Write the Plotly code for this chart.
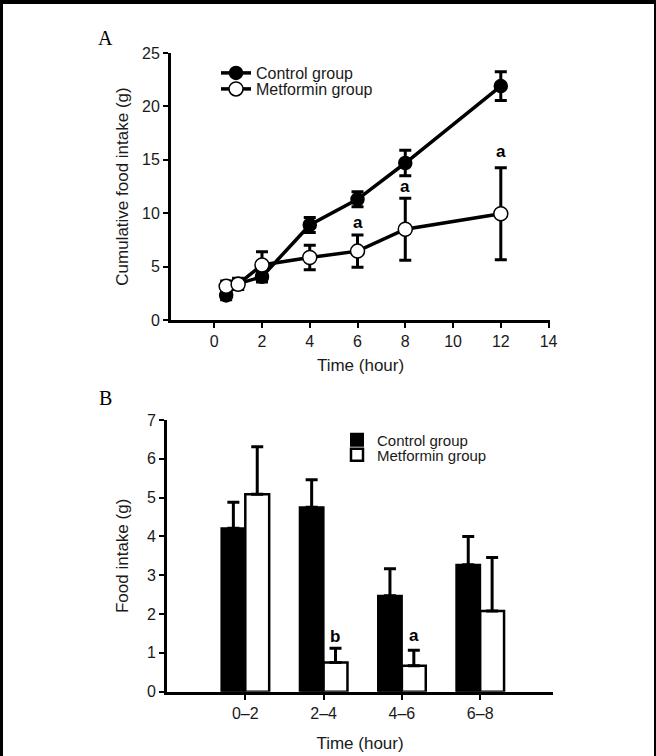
import plotly.graph_objects as go

# ---- Panel A data ----
time_h = [0.5, 1, 2, 4, 6, 8, 12]
control_cum = [2.3, 3.4, 4.05, 8.9, 11.3, 14.7, 21.9]
control_cum_err = [0.4, 0.5, 0.5, 0.7, 0.7, 1.2, 1.35]
metformin_cum = [3.15, 3.35, 5.15, 5.85, 6.45, 8.5, 9.95]
metformin_cum_err = [0.5, 0.5, 1.25, 1.15, 1.5, 2.9, 4.3]
sigA_x = [6, 8, 12]
sigA_y = [9.1, 12.5, 15.8]
sigA_text = ["a", "a", "a"]
xticksA = [0, 2, 4, 6, 8, 10, 12, 14]
yticksA = [0, 5, 10, 15, 20, 25]

# ---- Panel B data ----
periods = ["0\u20132", "2\u20134", "4\u20136", "6\u20138"]
period_idx = [0, 1, 2, 3]
control_int = [4.21, 4.75, 2.47, 3.27]
control_int_err = [0.67, 0.71, 0.70, 0.73]
metformin_int = [5.09, 0.75, 0.67, 2.08]
metformin_int_err = [1.22, 0.37, 0.40, 1.38]
sigB_x = [1.15, 2.15]
sigB_y = [1.42, 1.45]
sigB_text = ["b", "a"]
yticksB = [0, 1, 2, 3, 4, 5, 6, 7]

W, H = 656, 756
SANS = "Liberation Sans, Arial, sans-serif"
SERIF = "Liberation Serif, Times New Roman, serif"
TXT = "#1a1a1a"

fig = go.Figure()

fig.add_trace(go.Scatter(
    x=time_h, y=control_cum, mode="lines+markers", name="Control group",
    line=dict(color="black", width=3.5),
    marker=dict(symbol="circle", size=13, color="black", line=dict(color="black", width=1.5)),
    error_y=dict(type="data", array=control_cum_err, color="black", thickness=3, width=6),
    xaxis="x", yaxis="y", legend="legend",
))
fig.add_trace(go.Scatter(
    x=time_h, y=metformin_cum, mode="lines+markers", name="Metformin group",
    line=dict(color="black", width=3.5),
    marker=dict(symbol="circle", size=14, color="white", line=dict(color="black", width=1.5)),
    error_y=dict(type="data", array=metformin_cum_err, color="black", thickness=3, width=6),
    xaxis="x", yaxis="y", legend="legend2",
))

fig.add_trace(go.Bar(
    x=period_idx, y=control_int, name="Control group",
    marker=dict(color="black", line=dict(color="black", width=2)),
    error_y=dict(type="data", symmetric=False, array=control_int_err,
                 arrayminus=[0] * len(control_int), color="black", thickness=3, width=6),
    xaxis="x2", yaxis="y2", legend="legend3",
))
fig.add_trace(go.Bar(
    x=period_idx, y=metformin_int, name="Metformin group",
    marker=dict(color="white", line=dict(color="black", width=2.5)),
    error_y=dict(type="data", symmetric=False, array=metformin_int_err,
                 arrayminus=[0] * len(metformin_int), color="black", thickness=3, width=6),
    xaxis="x2", yaxis="y2", legend="legend4",
))

axis_common = dict(
    showline=True, linecolor="black", linewidth=3, showgrid=False, zeroline=False,
    ticks="outside", tickcolor="black", tickwidth=1.5, ticklen=5,
    tickfont=dict(family=SANS, size=16, color=TXT),
    automargin=False,
)
title_font = dict(family=SANS, size=17, color=TXT)
leg_common = dict(xanchor="left", yanchor="middle", bgcolor="rgba(0,0,0,0)",
                  font=dict(family=SANS, size=16, color=TXT), itemwidth=30, borderwidth=0)

fig.update_layout(
    width=W, height=H,
    margin=dict(l=0, r=0, t=0, b=0),
    paper_bgcolor="white", plot_bgcolor="white",
    barmode="group", bargap=0.39, bargroupgap=0,
    xaxis=dict(axis_common, domain=[171 / W, 550 / W], anchor="y",
               range=[-1.81, 14.06], tickvals=xticksA,
               title=dict(text="Time (hour)", font=title_font, standoff=10)),
    yaxis=dict(axis_common, domain=[1 - 320 / H, 1 - 53 / H], anchor="x",
               range=[0, 25], tickvals=yticksA,
               title=dict(text="Cumulative food intake (g)", font=title_font, standoff=10)),
    xaxis2=dict(axis_common, domain=[167 / W, 553 / W], anchor="y2",
                range=[-1.0, 3.93], tickvals=period_idx, ticktext=periods,
                title=dict(text="Time (hour)", font=title_font, standoff=17)),
    yaxis2=dict(axis_common, domain=[1 - 691.7 / H, 1 - 420 / H], anchor="x2",
                range=[0, 7], tickvals=yticksB,
                title=dict(text="Food intake (g)", font=title_font, standoff=14)),
    legend=dict(leg_common, x=216 / W, y=1 - 73 / H),
    legend2=dict(leg_common, x=216 / W, y=1 - 89 / H),
    legend3=dict(leg_common, x=337 / W, y=1 - 440 / H, font=dict(family=SANS, size=15, color=TXT)),
    legend4=dict(leg_common, x=337 / W, y=1 - 455 / H, font=dict(family=SANS, size=15, color=TXT)),
    showlegend=True,
)

annotations = []
for x, y, t in zip(sigA_x, sigA_y, sigA_text):
    annotations.append(dict(x=x, y=y, xref="x", yref="y", text="<b>%s</b>" % t, showarrow=False,
                            font=dict(family=SANS, size=17, color="black")))
for x, y, t in zip(sigB_x, sigB_y, sigB_text):
    annotations.append(dict(x=x, y=y, xref="x2", yref="y2", text="<b>%s</b>" % t, showarrow=False,
                            font=dict(family=SANS, size=17, color="black")))
annotations.append(dict(x=105 / W, y=1 - 38 / H, xref="paper", yref="paper", text="A", showarrow=False,
                        xanchor="center", yanchor="middle",
                        font=dict(family=SERIF, size=20, color="black")))
annotations.append(dict(x=105 / W, y=1 - 398 / H, xref="paper", yref="paper", text="B", showarrow=False,
                        xanchor="center", yanchor="middle",
                        font=dict(family=SERIF, size=20, color="black")))
fig.update_layout(annotations=annotations)

# black frame: left and right edges
frame = [
    dict(x0=0, x1=3 / W, y0=0, y1=1),
    dict(x0=654 / W, x1=1, y0=0, y1=1),
]
fig.update_layout(shapes=[dict(type="rect", xref="paper", yref="paper", fillcolor="black",
                               line=dict(color="black", width=0), layer="above", **f) for f in frame])

# top edge of the frame as a fixed overlay (does not shift the plot)
post = ("document.body.style.margin='0';document.body.style.overflow='hidden';"
        "var b=document.createElement('div');"
        "b.style.cssText='position:fixed;top:0;left:0;width:656px;height:4px;background:#000;z-index:9999;';"
        "document.body.appendChild(b);")

fig.write_html("out.html", config={"displayModeBar": False}, post_script=post)
